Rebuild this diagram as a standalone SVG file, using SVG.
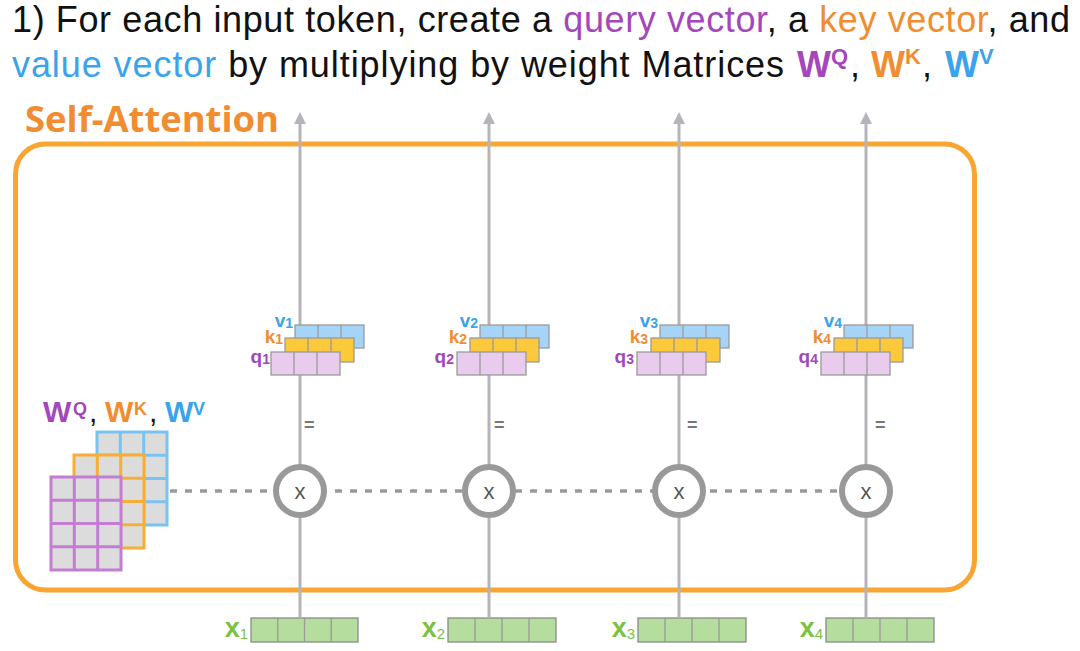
<svg xmlns="http://www.w3.org/2000/svg" width="1080" height="651" viewBox="0 0 1080 651">
<style>
.hd{font-family:"Liberation Sans",Arial,sans-serif;font-size:36px;fill:#111}
.pu{fill:#a347ba}.or{fill:#f28c30}.bl{fill:#3aa3ec}.gr{fill:#7bc143}
.b{font-weight:bold}
.lab{font-family:"Liberation Sans",Arial,sans-serif;font-weight:bold;font-size:19px}
.sub{font-size:14px}
.q{fill:#e8cbed;stroke:#9a9a9a;stroke-width:1.3}
.k{fill:#fcc93b;stroke:#9a9a9a;stroke-width:1.3}
.v{fill:#a6d4f7;stroke:#9a9a9a;stroke-width:1.3}
.x{fill:#b4dd9e;stroke:#8a8a8a;stroke-width:1.3}
.cl{stroke:#9a9a9a;stroke-width:1.3}
.arr{stroke:#b5b5b9;stroke-width:3;fill:none}
.ah{fill:#b5b5b9}
.ring{fill:#fff;stroke:#999;stroke-width:6}
.mul{font-family:"Liberation Sans",Arial,sans-serif;font-size:22px;fill:#555;text-anchor:middle}
.eq{font-family:"Liberation Sans",Arial,sans-serif;font-size:18px;font-weight:bold;fill:#777}
.mg{fill:#dcdcdc;stroke-width:3}
.xl{font-size:27px}
.xs{font-size:15px;font-weight:normal}
</style>

<g id="title">
<text class="hd" x="12" y="32" textLength="1058" lengthAdjust="spacing">1) For each input token, create a <tspan class="pu">query vector</tspan>, a <tspan class="or">key vector</tspan>, and</text>
<text class="hd" x="12" y="77" textLength="772" lengthAdjust="spacing"><tspan class="bl">value vector</tspan> by multiplying by weight Matrices</text>
<text class="hd b pu" x="797" y="77">W<tspan font-size="22" dy="-13">Q</tspan></text>
<text class="hd" x="850" y="77">,</text>
<text class="hd b or" x="871" y="77">W<tspan font-size="22" dy="-13">K</tspan></text>
<text class="hd" x="922" y="77">,</text>
<text class="hd b bl" x="945" y="77">W<tspan font-size="22" dy="-13">V</tspan></text>
</g>

<g id="self-attention">
<text x="25" y="132" font-family="'Open Sans','Liberation Sans',sans-serif" font-weight="bold" font-size="36.5" fill="#f28c30" textLength="254" lengthAdjust="spacingAndGlyphs">Self-Attention</text>
<rect x="15.5" y="144" width="959" height="446" rx="30" ry="30" fill="none" stroke="#f9a532" stroke-width="5"/>
</g>

<g id="connectors">
<line x1="170" y1="491" x2="842" y2="491" stroke="#999" stroke-width="3.5" stroke-dasharray="7 8"/>
<line class="arr" x1="300" y1="617" x2="300" y2="122"/>
<polygon class="ah" points="300,112 294,124 306,124"/>
<line class="arr" x1="489" y1="617" x2="489" y2="122"/>
<polygon class="ah" points="489,112 483,124 495,124"/>
<line class="arr" x1="679" y1="617" x2="679" y2="122"/>
<polygon class="ah" points="679,112 673,124 685,124"/>
<line class="arr" x1="866" y1="617" x2="866" y2="122"/>
<polygon class="ah" points="866,112 860,124 872,124"/>
</g>

<g id="weights">
<g stroke="#7ac3f0">
<rect class="mg" x="97" y="432" width="70" height="93"/>
<path d="M120.3,432V525M143.7,432V525M97,455.25H167M97,478.5H167M97,501.75H167" stroke-width="3" fill="none"/>
</g>
<g stroke="#f6ae35">
<rect class="mg" x="74" y="455" width="70" height="93"/>
<path d="M97.3,455V548M120.7,455V548M74,478.25H144M74,501.5H144M74,524.75H144" stroke-width="3" fill="none"/>
</g>
<g stroke="#c37ed2">
<rect class="mg" x="51" y="477" width="70" height="93"/>
<path d="M74.3,477V570M97.7,477V570M51,500.25H121M51,523.5H121M51,546.75H121" stroke-width="3" fill="none"/>
</g>
<text font-family="'Liberation Sans',Arial,sans-serif" font-weight="bold" font-size="30" x="43" y="422"><tspan class="pu">W</tspan><tspan class="pu" font-size="18" x="73" y="415">Q</tspan><tspan x="89" y="422" fill="#111" font-weight="normal">,</tspan><tspan class="or" x="105" y="422">W</tspan><tspan class="or" font-size="18" x="134" y="415">K</tspan><tspan x="149" y="422" fill="#111" font-weight="normal">,</tspan><tspan class="bl" x="165" y="422">W</tspan><tspan class="bl" font-size="18" x="193" y="415">V</tspan></text>
</g>

<g id="mult1"><circle class="ring" cx="300" cy="491" r="24"/><text class="mul" x="300" y="499">x</text></g>
<g id="mult2"><circle class="ring" cx="489" cy="491" r="24"/><text class="mul" x="489" y="499">x</text></g>
<g id="mult3"><circle class="ring" cx="679" cy="491" r="24"/><text class="mul" x="679" y="499">x</text></g>
<g id="mult4"><circle class="ring" cx="866" cy="491" r="24"/><text class="mul" x="866" y="499">x</text></g>

<g id="eq">
<text class="eq" x="304" y="431">=</text>
<text class="eq" x="494" y="431">=</text>
<text class="eq" x="687" y="431">=</text>
<text class="eq" x="875" y="431">=</text>
</g>

<g id="qkv1">
<g transform="translate(295,325)"><rect class="v" width="69" height="23"/><path class="cl" d="M23,0V23M46,0V23"/></g>
<g transform="translate(285,338)"><rect class="k" width="69" height="24"/><path class="cl" d="M23,0V24M46,0V24"/></g>
<g transform="translate(271,352)"><rect class="q" width="69" height="23"/><path class="cl" d="M23,0V23M46,0V23"/></g>
<text class="lab bl" x="293" y="327" text-anchor="end">v<tspan class="sub" dy="1">1</tspan></text>
<text class="lab or" x="283" y="343" text-anchor="end">k<tspan class="sub" dy="1">1</tspan></text>
<text class="lab pu" x="270" y="363" text-anchor="end">q<tspan class="sub" dy="1">1</tspan></text>
</g>
<g id="qkv2">
<g transform="translate(480,325)"><rect class="v" width="69" height="23"/><path class="cl" d="M23,0V23M46,0V23"/></g>
<g transform="translate(470,338)"><rect class="k" width="69" height="24"/><path class="cl" d="M23,0V24M46,0V24"/></g>
<g transform="translate(457,352)"><rect class="q" width="69" height="23"/><path class="cl" d="M23,0V23M46,0V23"/></g>
<text class="lab bl" x="478" y="327" text-anchor="end">v<tspan class="sub" dy="1">2</tspan></text>
<text class="lab or" x="467" y="343" text-anchor="end">k<tspan class="sub" dy="1">2</tspan></text>
<text class="lab pu" x="454" y="363" text-anchor="end">q<tspan class="sub" dy="1">2</tspan></text>
</g>
<g id="qkv3">
<g transform="translate(660,325)"><rect class="v" width="69" height="23"/><path class="cl" d="M23,0V23M46,0V23"/></g>
<g transform="translate(651,338)"><rect class="k" width="69" height="24"/><path class="cl" d="M23,0V24M46,0V24"/></g>
<g transform="translate(637,352)"><rect class="q" width="69" height="23"/><path class="cl" d="M23,0V23M46,0V23"/></g>
<text class="lab bl" x="658" y="327" text-anchor="end">v<tspan class="sub" dy="1">3</tspan></text>
<text class="lab or" x="648" y="343" text-anchor="end">k<tspan class="sub" dy="1">3</tspan></text>
<text class="lab pu" x="634" y="363" text-anchor="end">q<tspan class="sub" dy="1">3</tspan></text>
</g>
<g id="qkv4">
<g transform="translate(844,325)"><rect class="v" width="69" height="23"/><path class="cl" d="M23,0V23M46,0V23"/></g>
<g transform="translate(834,338)"><rect class="k" width="69" height="24"/><path class="cl" d="M23,0V24M46,0V24"/></g>
<g transform="translate(821,352)"><rect class="q" width="69" height="23"/><path class="cl" d="M23,0V23M46,0V23"/></g>
<text class="lab bl" x="842" y="327" text-anchor="end">v<tspan class="sub" dy="1">4</tspan></text>
<text class="lab or" x="831" y="343" text-anchor="end">k<tspan class="sub" dy="1">4</tspan></text>
<text class="lab pu" x="818" y="363" text-anchor="end">q<tspan class="sub" dy="1">4</tspan></text>
</g>

<g id="x1">
<g transform="translate(251,618)"><rect class="x" width="107" height="24"/><path class="cl" d="M26.75,0V24M53.5,0V24M80.25,0V24"/></g>
<text class="lab gr xl" x="248" y="637" text-anchor="end">x<tspan class="xs" dy="2">1</tspan></text>
</g>
<g id="x2">
<g transform="translate(448,618)"><rect class="x" width="108" height="24"/><path class="cl" d="M27,0V24M54,0V24M81,0V24"/></g>
<text class="lab gr xl" x="445" y="637" text-anchor="end">x<tspan class="xs" dy="2">2</tspan></text>
</g>
<g id="x3">
<g transform="translate(638,618)"><rect class="x" width="108" height="24"/><path class="cl" d="M27,0V24M54,0V24M81,0V24"/></g>
<text class="lab gr xl" x="635" y="637" text-anchor="end">x<tspan class="xs" dy="2">3</tspan></text>
</g>
<g id="x4">
<g transform="translate(826,618)"><rect class="x" width="108" height="24"/><path class="cl" d="M27,0V24M54,0V24M81,0V24"/></g>
<text class="lab gr xl" x="823" y="637" text-anchor="end">x<tspan class="xs" dy="2">4</tspan></text>
</g>
</svg>
